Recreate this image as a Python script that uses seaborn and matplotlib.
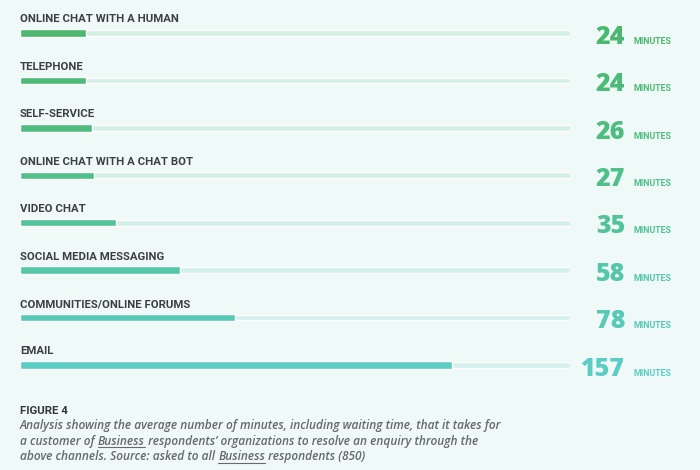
import matplotlib
matplotlib.use("Agg")
import matplotlib.pyplot as plt
import matplotlib.transforms as mtransforms
import seaborn as sns
import pandas as pd
import numpy as np

channels = ["ONLINE CHAT WITH A HUMAN", "TELEPHONE", "SELF-SERVICE",
            "ONLINE CHAT WITH A CHAT BOT", "VIDEO CHAT", "SOCIAL MEDIA MESSAGING",
            "COMMUNITIES/ONLINE FORUMS", "EMAIL"]
minutes = [24, 24, 26, 27, 35, 58, 78, 157]
scale_max = 200
unit_label = "MINUTES"
fig_title = "FIGURE 4"
caption_lines = [
    ["Analysis showing the average number of minutes, including waiting time, that it takes for"],
    ["a customer of ", ("Business",), " respondents\u2019 organizations to resolve an enquiry through the"],
    ["above channels. Source: asked to all ", ("Business",), " respondents (850)"],
]

bar_colors = ["#4cb86f", "#4dbb77", "#4ebd7f", "#50c08b", "#52c398", "#55c6a8", "#57c9b7", "#5bcdc5"]
track_colors = ["#d3efe1", "#d3f0e3", "#d3f0e5", "#d3f0e7", "#d3f0e9", "#d3f0eb", "#d3f0ed", "#d4f1ef"]
bg = "#eff9f7"
label_color = "#3c4046"

sns.set_theme(style="white")
plt.rcParams["font.family"] = ["Roboto", "DejaVu Sans"]

df = pd.DataFrame({"channel": channels, "minutes": minutes,
                   "track": [scale_max] * len(channels)})

W, H = 700, 470
fig = plt.figure(figsize=(W / 100, H / 100), dpi=100, facecolor=bg)
ax = fig.add_axes([20 / W, 1 - 390 / H, 550 / W, 390 / H])
ax.set_facecolor("none")

sns.barplot(data=df, y="channel", x="track", hue="channel", palette=track_colors,
            width=0.12, legend=False, ax=ax, saturation=1)
sns.barplot(data=df, y="channel", x="minutes", hue="channel", palette=bar_colors,
            width=0.155, legend=False, ax=ax, saturation=1)

ax.set_xlim(0, scale_max)
ax.set_ylim(7.527, -0.696)
ax.axis("off")

blend = mtransforms.blended_transform_factory(fig.transFigure, ax.transData)
for i, (name, val) in enumerate(zip(channels, minutes)):
    ax.text(0, i - 0.222, name, fontsize=8.2, fontweight="bold", color=label_color,
            ha="left", va="baseline", family=["Roboto", "DejaVu Sans"])
    ax.text(625 / W, i + 0.225, str(val), transform=blend, fontsize=18.0,
            fontweight="extra bold", color=bar_colors[i], ha="right", va="baseline",
            family=["Open Sans", "DejaVu Sans"])
    ax.text(633 / W, i + 0.225, unit_label, transform=blend, fontsize=6.4,
            fontweight="bold", color=bar_colors[i], ha="left", va="baseline",
            family=["Roboto", "DejaVu Sans"])

fig.text(20 / W, 1 - 414 / H, fig_title, fontsize=8.2, fontweight="bold",
         color="#33363b", ha="left", va="baseline", family=["Roboto", "DejaVu Sans"])

fig.canvas.draw()
renderer = fig.canvas.get_renderer()
cap_color = "#66696e"
for li, line in enumerate(caption_lines):
    y_px = 429 + li * 15.7
    x_px = 20.0
    for piece in line:
        underline = isinstance(piece, tuple)
        s = piece[0] if underline else piece
        t = fig.text(x_px / W, 1 - y_px / H, s, fontsize=8.6, fontstyle="italic",
                     fontweight="semibold", color=cap_color, ha="left", va="baseline",
                     family=["Open Sans", "DejaVu Sans"])
        bb = t.get_window_extent(renderer=renderer)
        if underline:
            fig.add_artist(plt.Line2D([x_px / W, (x_px + bb.width) / W],
                                      [1 - (y_px + 2.2) / H, 1 - (y_px + 2.2) / H],
                                      transform=fig.transFigure, color=cap_color, lw=0.8))
        x_px += bb.width

fig.savefig("out.png", dpi=100, facecolor=bg)
